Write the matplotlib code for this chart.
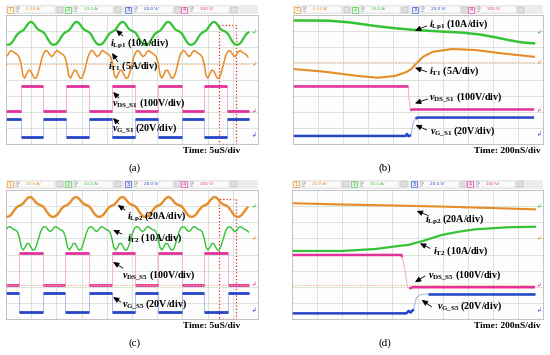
import numpy as np
import matplotlib
matplotlib.use("Agg")
from matplotlib import pyplot as plt
from matplotlib.patches import Rectangle

plt.rcParams['font.family'] = ['Liberation Serif', 'DejaVu Serif']
plt.rcParams['mathtext.fontset'] = 'custom'
plt.rcParams['mathtext.rm'] = 'Liberation Serif:bold'
plt.rcParams['mathtext.it'] = 'Liberation Serif:italic:bold'
plt.rcParams['mathtext.bf'] = 'Liberation Serif:bold'

W, H = 550, 355

GREEN = '#36c236'
ORANGE = '#e68c28'
PINK = '#e2319b'
BLUE = '#2446c6'
PINK_EDGE = '#f3a9d2'
BLUE_EDGE = '#9fb2ea'
REF = '#f4b27a'
RED = '#e2231a'
CH_COLORS = [ORANGE, GREEN, BLUE, PINK]
CH_LIGHT = ['#fff4e0', '#e2f6e2', '#e2e8fa', '#fce4f1']

# ---------------- panel (a) : 5uS/div, values in divisions ----------------
a_period = 1.816
a_rise = [0.595, 2.38, 4.21, 6.03, 7.86]
a_fall = [1.47, 3.29, 5.12, 6.98, 8.77]
a_green_t0 = 0.08
a_green = [6.15, 6.18, 6.28, 6.45, 6.65, 6.82, 6.92, 6.98, 7.05, 7.20, 7.38, 7.52,
           7.58, 7.52, 7.38, 7.20, 7.08, 7.02, 6.97, 6.88, 6.70, 6.48, 6.30, 6.18]
a_orange_t0 = 0.595
a_orange = [5.00, 4.25, 4.08, 4.35, 4.58, 4.55, 4.30, 4.08, 4.10, 4.40, 4.85, 5.35,
            5.65, 5.80, 5.75, 5.55, 5.42, 5.50, 5.72, 5.80, 5.70, 5.62, 5.55, 5.40]
a_pink_hi, a_pink_lo = 3.60, 2.05
a_blue_hi, a_blue_lo = 1.58, 0.42
a_ref = 4.96
a_markers = [6.9, 4.96, 2.0, 0.56]

# ---------------- panel (b) : 200nS/div ----------------
b_green_t = [0, 1.4, 2.28, 3.28, 4.08, 4.88, 5.88, 6.76, 7.48, 8.08, 8.68, 9.16, 9.64]
b_green = [7.66, 7.65, 7.54, 7.32, 7.18, 7.07, 6.98, 6.91, 6.79, 6.62, 6.43, 6.30, 6.24]
b_orange_t = [0, 1.28, 2.6, 3.4, 4.08, 4.56, 4.76, 4.96, 5.2, 5.6, 6.36, 7.28, 8.36, 9.64]
b_orange = [4.65, 4.48, 4.22, 4.11, 4.22, 4.48, 4.69, 5.04, 5.41, 5.72, 5.89, 5.83, 5.62, 5.41]
b_pink_t = [0, 4.6, 4.66, 4.70, 4.76, 9.64]
b_pink = [3.62, 3.62, 2.5, 2.08, 2.14, 2.14]
b_blue_t = [0, 4.5, 4.56, 4.62, 4.72, 4.80, 4.90, 5.0, 9.64]
b_blue = [0.5, 0.5, 0.62, 0.48, 0.55, 1.3, 1.58, 1.64, 1.64]
b_ref = 5.07
b_markers = [6.93, 5.07, 2.11, 0.6]

# ---------------- panel (c) : 5uS/div ----------------
c_period = 1.833
c_rise = [0.53, 2.34, 4.19, 6.02, 7.86]
c_fall = [1.46, 3.31, 5.12, 6.97, 8.81]
c_orange_t0 = 0.03
c_orange = [6.33, 6.36, 6.44, 6.59, 6.76, 6.91, 7.00, 7.05, 7.11, 7.24, 7.40, 7.52,
            7.57, 7.52, 7.40, 7.24, 7.14, 7.08, 7.04, 6.96, 6.81, 6.62, 6.46, 6.36]
c_green_t0 = 0.53
c_green = [5.05, 4.45, 4.28, 4.45, 4.68, 4.68, 4.45, 4.27, 4.30, 4.60, 5.00, 5.40,
           5.65, 5.73, 5.68, 5.52, 5.42, 5.50, 5.68, 5.73, 5.65, 5.55, 5.52, 5.40]
c_pink_hi, c_pink_lo = 4.12, 2.11
c_blue_hi, c_blue_lo = 1.59, 0.45
c_ref = 2.11
c_markers = [6.97, 5.0, 2.17, 0.56]

# ---------------- panel (d) : 200nS/div ----------------
d_orange_t = [0, 2, 4, 6, 8, 9.68]
d_orange = [7.18, 7.10, 7.04, 6.97, 6.88, 6.80]
d_green_t = [0, 1.98, 3.31, 4.3, 4.63, 5.3, 5.96, 6.63, 7.29, 8.62, 9.68]
d_green = [4.22, 4.22, 4.34, 4.54, 4.59, 4.88, 5.21, 5.41, 5.56, 5.69, 5.72]
d_pink_t = [0, 4.35, 4.40, 4.50, 4.60, 4.68, 4.80, 9.68]
d_pink = [3.97, 3.97, 3.85, 3.0, 2.0, 1.88, 1.97, 1.97]
d_blue_t = [0, 4.55, 4.65, 4.72, 4.85, 4.95, 5.1, 5.4, 9.68]
d_blue = [0.35, 0.35, 0.5, 0.4, 0.6, 1.3, 1.5, 1.55, 1.55]
d_ref = 2.11
d_markers = [6.97, 5.0, 2.11, 0.56]

# header scales per channel
ab_scales = ['5.00 A/', '10.0 A/', '20.0 V/', '100 V/']
cd_scales = ['20.0 A/', '10.0 A/', '20.0 V/', '100 V/']

# annotations: label, text pos, arrow tail, arrow tip (divisions)
a_notes = [
    (r'$i_{\rm Lp1}$ (10A/div)', (4.13, 6.26), (4.64, 6.70), (4.37, 7.07)),
    (r'$i_{\rm T1}$ (5A/div)', (4.05, 4.84), (4.44, 5.09), (4.21, 5.64)),
    (r'$v_{\rm DS\_S1}$ (100V/div)', (4.21, 2.54), (4.48, 2.85), (4.25, 3.22)),
    (r'$v_{\rm G\_S1}$ (20V/div)', (4.21, 0.99), (4.48, 1.24), (4.25, 1.61)),
]
b_notes = [
    (r'$i_{\rm Lp1}$ (10A/div)', (5.44, 7.44), (5.35, 7.32), (4.88, 7.03)),
    (r'$i_{\rm T1}$ (5A/div)', (5.44, 4.53), (5.35, 4.48), (4.88, 4.73)),
    (r'$v_{\rm DS\_S1}$ (100V/div)', (5.44, 2.87), (5.39, 2.79), (4.88, 2.52)),
    (r'$v_{\rm G\_S1}$ (20V/div)', (5.48, 0.82), (5.35, 0.87), (4.90, 1.18)),
]
c_notes = [
    (r'$i_{\rm Lp2}$ (20A/div)', (4.80, 6.41), (4.72, 6.76), (4.44, 7.07)),
    (r'$i_{\rm T2}$ (10A/div)', (4.80, 5.02), (4.60, 5.27), (4.25, 5.52)),
    (r'$v_{\rm DS\_S5}$ (100V/div)', (4.60, 2.73), (4.64, 3.16), (4.25, 3.53)),
    (r'$v_{\rm G\_S5}$ (20V/div)', (4.60, 0.93), (4.56, 1.05), (4.25, 1.36)),
]
d_notes = [
    (r'$i_{\rm Lp2}$ (20A/div)', (5.30, 6.20), (5.38, 6.45), (4.97, 6.70)),
    (r'$i_{\rm T2}$ (10A/div)', (5.62, 4.22), (5.50, 4.38), (5.10, 4.69)),
    (r'$v_{\rm DS\_S5}$ (100V/div)', (5.42, 2.73), (5.30, 2.67), (4.90, 2.28)),
    (r'$v_{\rm G\_S5}$ (20V/div)', (5.78, 0.76), (5.56, 0.76), (5.17, 1.18)),
]

hdr_box_x = [1, 59, 119, 175]


def frac(l, t, r, b):
    return [l / W, 1 - b / H, (r - l) / W, (b - t) / H]


def panel_axes(fig, l, t, r, b):
    ax = fig.add_axes(frac(l, t, r, b))
    ax.set_xlim(0, 10)
    ax.set_ylim(0, 8)
    ax.set_facecolor('#fcfdfc')
    ax.set_xticks(np.arange(1, 10))
    ax.set_yticks(np.arange(1, 8))
    ax.tick_params(length=0, labelbottom=False, labelleft=False)
    ax.grid(True, color='#d6ddd6', lw=0.6)
    for s in ax.spines.values():
        s.set_color('#b8b8b8')
        s.set_linewidth(0.6)
    return ax


def header(fig, l, r, top, scales):
    hax = fig.add_axes(frac(l, top - 10, r, top - 1))
    hax.set_xlim(0, r - l)
    hax.set_ylim(0, 9)
    hax.axis('off')
    hax.add_patch(Rectangle((0, 0), r - l, 9, color='#ececec'))
    for i, (x0, txt) in enumerate(zip(hdr_box_x, scales)):
        col = CH_COLORS[i]
        hax.add_patch(Rectangle((x0, 1.5), 6, 6, fc=CH_LIGHT[i], ec=col, lw=0.4))
        hax.text(x0 + 3, 4.5, str(i + 1), color=col, fontsize=3.5, ha='center',
                 va='center', family='DejaVu Sans')
        hax.add_patch(Rectangle((x0 + 8, 1), 40, 7, fc='#fafafa', ec='#d0d0d0', lw=0.3))
        hax.text(x0 + 9, 6, 'On', color='#777777', fontsize=2.6, va='center',
                 family='DejaVu Sans')
        hax.text(x0 + 9, 2.8, '\u2611', color='#999999', fontsize=2.4, va='center',
                 family='DejaVu Sans')
        hax.text(x0 + 19, 4.5, txt, color=col, fontsize=3.0, va='center',
                 family='DejaVu Sans')
        hax.add_patch(Rectangle((x0 + 50, 1.5), 6, 6, fc='#e0e0e0', ec='#a8a8a8', lw=0.3))


def periodic(shape, t0, period, t_end):
    n = len(shape)
    k0 = int(np.floor(-t0 / period * n)) - 1
    k1 = int(np.ceil((t_end - t0) / period * n)) + 1
    k = np.arange(k0, k1 + 1)
    t = t0 + k * period / n
    y = np.array(shape)[k % n]
    keep = (t >= -period / n) & (t <= t_end)
    return t[keep], y[keep]


def square(ax, rise, fall, first, second, t_end, color, edge, lw):
    # starts at 'first' level, switches to 'second' at each rise, back at each fall
    xs, ys = [0.0], [first]
    for r, f in zip(rise, fall):
        xs += [r, r, f, f]
        ys += [first, second, second, first]
    xs.append(t_end)
    ys.append(first)
    ax.plot(xs, ys, color=edge, lw=0.6)
    for i in range(len(xs) - 1):
        if ys[i] == ys[i + 1] and xs[i + 1] > xs[i]:
            ax.plot([xs[i], xs[i + 1]], [ys[i], ys[i]], color=color, lw=lw,
                    solid_capstyle='butt')


def step_trace(ax, t, y, color, edge, lw, i0, i1):
    ax.plot(t, y, color=edge, lw=0.7)
    ax.plot(t[:i0], y[:i0], color=color, lw=lw, solid_capstyle='butt')
    ax.plot(t[i1:], y[i1:], color=color, lw=lw, solid_capstyle='butt')


def decorate(ax, notes, ref, markers, t_end):
    ax.plot([0, t_end], [ref, ref], color=REF, lw=0.7, ls=(0, (1.5, 1.5)))
    for yv, col in zip(markers, [GREEN, ORANGE, PINK, BLUE]):
        ax.text(9.83, yv, '\u21b2', color=col, fontsize=4, ha='center', va='center',
                family='DejaVu Sans')
    for lab, txy, tail, tip in notes:
        ax.text(txy[0], txy[1], lab, fontsize=7.2, fontweight='bold', ha='left',
                va='center', clip_on=False)
        ax.annotate('', xy=tip, xytext=tail,
                    arrowprops=dict(arrowstyle='-|>,head_length=0.35,head_width=0.16',
                                    color='k', lw=0.6, shrinkA=0, shrinkB=0))


fig = plt.figure(figsize=(W / 100, H / 100), dpi=100)
fig.patch.set_facecolor('white')

# ---- (a)
ax = panel_axes(fig, 6, 15, 258, 144)
header(fig, 6, 258, 15, ab_scales)
t, y = periodic(a_green, a_green_t0, a_period, 9.64)
ax.plot(t, y, color=GREEN, lw=1.6)
t, y = periodic(a_orange, a_orange_t0, a_period, 9.64)
ax.plot(t, y, color=ORANGE, lw=1.1)
square(ax, a_rise, a_fall, a_pink_lo, a_pink_hi, 9.64, PINK, PINK_EDGE, 2.0)
square(ax, a_rise, a_fall, a_blue_hi, a_blue_lo, 9.64, BLUE, BLUE_EDGE, 2.0)
decorate(ax, a_notes, a_ref, a_markers, 9.64)
ax.add_patch(Rectangle((8.45, 0), 0.68, 7.39, fill=False, ec=RED, lw=0.9, ls=':',
                       clip_on=False))

# ---- (b)
ax = panel_axes(fig, 293, 15, 543, 144)
header(fig, 293, 543, 15, ab_scales)
ax.plot(b_green_t, b_green, color=GREEN, lw=1.8)
ax.plot(b_orange_t, b_orange, color=ORANGE, lw=1.5)
step_trace(ax, b_pink_t, b_pink, PINK, PINK_EDGE, 1.8, 2, 3)
step_trace(ax, b_blue_t, b_blue, BLUE, BLUE_EDGE, 1.8, 5, 6)
decorate(ax, b_notes, b_ref, b_markers, 9.64)

# ---- (c)
ax = panel_axes(fig, 6, 190, 258, 319)
header(fig, 6, 258, 190, cd_scales)
t, y = periodic(c_orange, c_orange_t0, c_period, 9.64)
ax.plot(t, y, color=ORANGE, lw=1.7)
t, y = periodic(c_green, c_green_t0, c_period, 9.64)
ax.plot(t, y, color=GREEN, lw=1.0)
square(ax, c_rise, c_fall, c_pink_lo, c_pink_hi, 9.64, PINK, PINK_EDGE, 2.0)
square(ax, c_rise, c_fall, c_blue_hi, c_blue_lo, 9.64, BLUE, BLUE_EDGE, 2.0)
decorate(ax, c_notes, c_ref, c_markers, 9.64)
ax.add_patch(Rectangle((8.45, 0), 0.68, 7.45, fill=False, ec=RED, lw=0.9, ls=':',
                       clip_on=False))

# ---- (d)
ax = panel_axes(fig, 292, 190, 543, 319)
header(fig, 292, 543, 190, cd_scales)
ax.plot(d_orange_t, d_orange, color=ORANGE, lw=1.5)
ax.plot(d_green_t, d_green, color=GREEN, lw=1.6)
step_trace(ax, d_pink_t, d_pink, PINK, PINK_EDGE, 1.8, 3, 5)
step_trace(ax, d_blue_t, d_blue, BLUE, BLUE_EDGE, 1.8, 5, 7)
decorate(ax, d_notes, d_ref, d_markers, 9.68)

# time base labels and panel letters
for x, y, s in [(240, 151, 'Time: 5uS/div'), (541, 151, 'Time: 200nS/div'),
                (240, 326, 'Time: 5uS/div'), (541, 326, 'Time: 200nS/div')]:
    fig.text(x / W, 1 - y / H, s, fontsize=6.8, fontweight='bold', ha='right', va='center')
for x, y, s in [(135, 168, '(a)'), (385, 168, '(b)'), (135, 343, '(c)'), (385, 343, '(d)')]:
    fig.text(x / W, 1 - y / H, s, fontsize=8, ha='center', va='center')

fig.savefig('out.png', dpi=100)
